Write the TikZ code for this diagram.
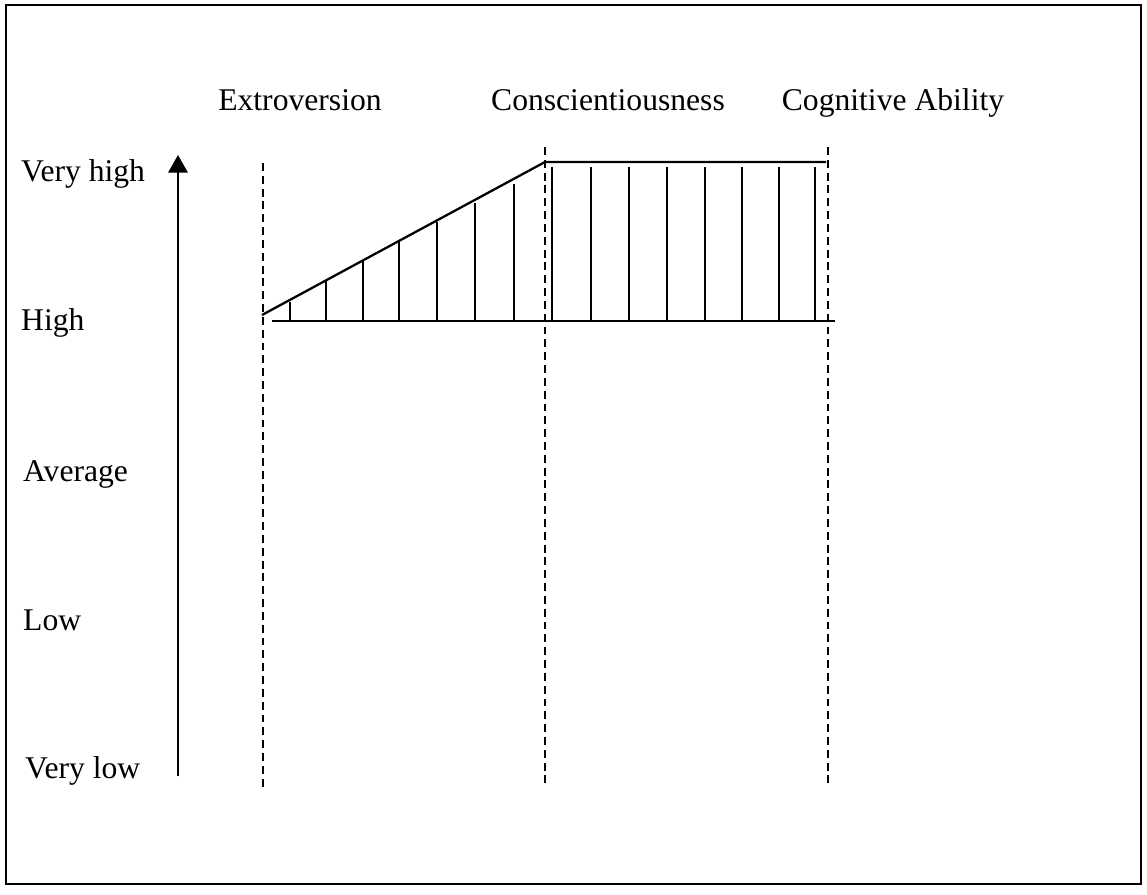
\documentclass[tikz,border=0pt]{standalone}
\usepackage{fontspec}
\setmainfont{Liberation Serif}
\usetikzlibrary{arrows.meta}
\tikzset{>=stealth}
\tikzset{
  level/.style={anchor=base west, font=\fontsize{18}{21}\selectfont},
  trait/.style={anchor=base, font=\fontsize{18}{21}\selectfont},
  divider/.style={line width=0.8pt, dash pattern=on 4.5pt off 2.8pt},
  profile/.style={line width=1.3pt},
  hatch/.style={line width=0.9pt}
}

\begin{document}
\begin{tikzpicture}[x=0.02cm, y=-0.02cm]
      \useasboundingbox (0,0) rectangle (1147,895);
      \draw[line width=0.9pt] (6,5) rectangle (1141,884);
      % trait names along the top
      \node[trait] (ext) at (300,111) {Extroversion};
      \node[trait] (consc) at (608,111) {Conscientiousness};
      \node[trait] (cog) at (893,111) {Cognitive Ability};
      % levels on the left
      \node[level] (vhigh) at (15,182) {Very high};
      \node[level] (high) at (15,331) {High};
      \node[level] (avg) at (17,481) {Average};
      \node[level] (low) at (17,630) {Low};
      \node[level] (vlow) at (19,778) {Very low};
      % scale arrow
      \coordinate (abot) at (178,776);
      \coordinate (atop) at (178,155);
      \draw[-{Triangle[length=10pt,width=11pt]}, line width=1.2pt] (abot) -- (atop);
      % dashed dividers
      \coordinate (d1t) at (263,163);
      \coordinate (d1b) at (263,787);
      \coordinate (d2t) at (545,147);
      \coordinate (d2b) at (545,787);
      \coordinate (d3t) at (828,147);
      \coordinate (d3b) at (828,787);
      \draw[divider] (d1t) -- (d1b);
      \draw[divider] (d2t) -- (d2b);
      \draw[divider] (d3t) -- (d3b);
      % profile outline
      \coordinate (p0) at (262,315);
      \coordinate (p1) at (545,162);
      \coordinate (p2) at (826,162);
      \coordinate (b0) at (272,321);
      \coordinate (b1) at (835,321);
      \draw[profile] (p0) -- (p1) -- (p2);
      \draw[profile] (b0) -- (b1);
      % hatching under the profile
      \foreach \x/\y in {290/302, 326/281, 363/261, 399/241, 437/222, 475/203, 514/184}
        \draw[hatch] (\x,\y) -- (\x,321);
      \foreach \x in {552,591,629,667,705,742,779,815}
        \draw[hatch] (\x,167) -- (\x,321);
\end{tikzpicture}
\end{document}
